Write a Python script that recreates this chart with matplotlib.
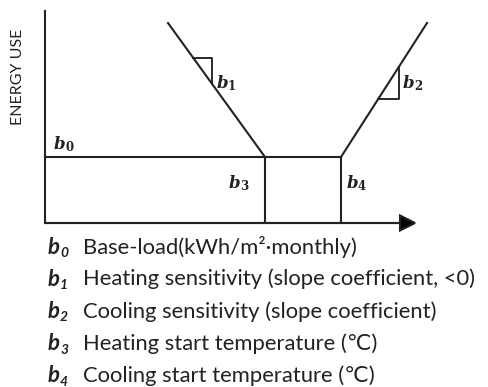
import matplotlib
matplotlib.use("Agg")
import matplotlib.pyplot as plt

# conceptual change-point model (arbitrary units, x = temperature, y = energy use)
base_load = 6.6
heat_start = 22.0      # b3
cool_start = 29.6      # b4
heat_x0 = 12.3         # where heating line starts (top-left)
cool_x1 = 38.2         # where cooling line ends (top-right)
heat_slope = (6.6 - 20.0) / (22.0 - 12.3)
cool_slope = (20.0 - 6.6) / (38.2 - 29.6)
x_end = 37.0
y_top = 21.2

param_names = ["0", "1", "2", "3", "4"]
param_desc = ["Base-load(kWh/m\u00b2\u00b7monthly)",
              "Heating sensitivity (slope coefficient, <0)",
              "Cooling sensitivity (slope coefficient)",
              "Heating start temperature (\u2103)",
              "Cooling start temperature (\u2103)"]

W, H = 489, 387
fig = plt.figure(figsize=(W / 100, H / 100), dpi=100)
ax = fig.add_axes([0, 0, 1, 1])
ax.set_xlim(-4.5, 44.4)
ax.set_ylim(-16.4, 22.3)
ax.axis('off')

c = '#222222'
lw = 1.5
fam = ['Lato', 'DejaVu Sans']

# axes
ax.plot([0, 0], [0, y_top], color=c, lw=lw)
ax.arrow(0, 0, x_end, 0, head_width=1.5, head_length=1.5, length_includes_head=True,
         fc='black', ec=c, lw=lw)

# base load and change points
ax.plot([0, cool_start], [base_load, base_load], color=c, lw=lw)
ax.plot([heat_start, heat_start], [0, base_load], color=c, lw=lw)
ax.plot([cool_start, cool_start], [0, base_load], color=c, lw=lw)

# heating and cooling lines
y_h0 = base_load + heat_slope * (heat_x0 - heat_start)
y_c1 = base_load + cool_slope * (cool_x1 - cool_start)
ax.plot([heat_x0, heat_start], [y_h0, base_load], color=c, lw=lw)
ax.plot([cool_start, cool_x1], [base_load, y_c1], color=c, lw=lw)

# slope triangles
hx1, hx2 = 14.8, 16.7
hy1 = base_load + heat_slope * (hx1 - heat_start)
hy2 = base_load + heat_slope * (hx2 - heat_start)
ax.plot([hx1, hx2, hx2], [hy1, hy1, hy2], color=c, lw=lw * 0.9)
cx1, cx2 = 33.3, 35.4
cy1 = base_load + cool_slope * (cx1 - cool_start)
cy2 = base_load + cool_slope * (cx2 - cool_start)
ax.plot([cx1, cx2, cx2], [cy1, cy1, cy2], color=c, lw=lw * 0.9)

# labels on the chart
def lab(x, y, n):
    ax.text(x, y, "b", fontsize=12, family='DejaVu Serif', weight='bold', style='italic',
            color=c, ha='left', va='center')
    ax.text(x + 1.1, y - 0.35, n, fontsize=8.5, family='DejaVu Serif', weight='bold',
            color=c, ha='left', va='center')

lab(0.9, 7.9, "0")
lab(17.2, 14.0, "1")
lab(35.8, 14.0, "2")
lab(18.4, 4.0, "3")
lab(30.2, 4.0, "4")

fig.text(18 / W, 1 - 77 / H, "ENERGY USE", rotation=90, ha='center', va='center',
         fontsize=11.5, family=fam, color=c)

# legend text
for i, (n, d) in enumerate(zip(param_names, param_desc)):
    yp = 1 - (247 + 32.2 * i) / H
    fig.text(48 / W, yp, "b", fontsize=16, family=fam, weight='bold', style='italic',
             color=c, ha='left', va='center')
    fig.text(60 / W, yp - 6 / H, n, fontsize=10, family=fam, weight='bold', style='italic',
             color=c, ha='left', va='center')
    fig.text(83 / W, yp, d, fontsize=15.8, family=fam, color=c, ha='left', va='center')

fig.savefig("out.png", dpi=100)
